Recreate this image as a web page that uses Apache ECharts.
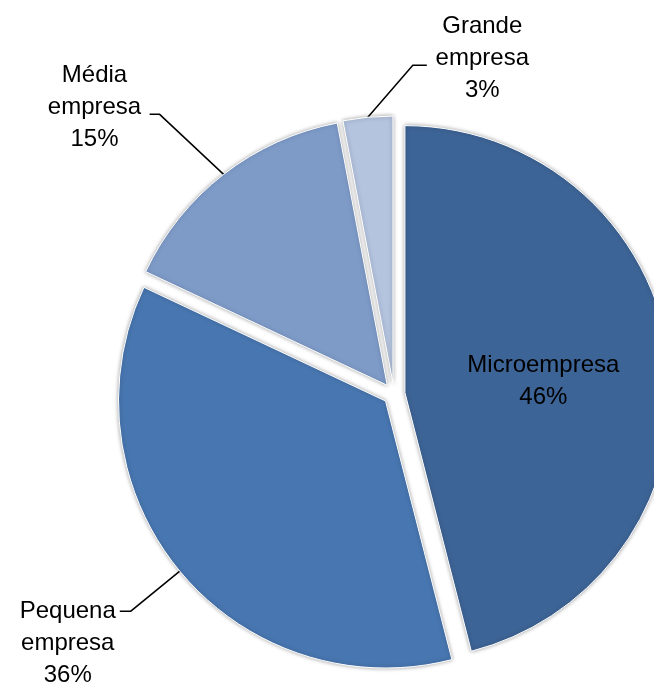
<!DOCTYPE html>
<html>
<head>
<meta charset="utf-8">
<script src="https://cdn.jsdelivr.net/npm/echarts@6/dist/echarts.min.js"></script>
<style>
  html, body { margin: 0; padding: 0; background: #fff; }
  #chart { width: 654px; height: 687px; }
</style>
</head>
<body>
<div id="chart"></div>
<script>
// porte das empresas
const categories = ['Microempresa', 'Pequena empresa', 'Média empresa', 'Grande empresa'];
const shares = [46, 36, 15, 3];
const colors = ['#3D6496', '#4876B0', '#7E9BC8', '#B4C3DE'];

// comprimentos das linhas guia (posicionam o texto) e forma desenhada da linha,
// relativa ao ponto na borda da fatia
const guide = {
  'Pequena empresa': { length: 113, length2: 20, p1: [-49, 40], p2: [-60, 40] },
  'Média empresa': { length: 85, length2: 72, p1: [-64, -60], p2: [-74, -60] },
  'Grande empresa': { length: 59, length2: -125, p1: [45, -52], p2: [59, -52] }
};

const chart = echarts.init(document.getElementById('chart'));

const data = categories.map((name, i) => {
  const item = {
    name: name,
    value: shares[i],
    selected: true,
    itemStyle: { color: colors[i] }
  };
  if (i === 0) {
    item.label = { position: 'inside' };
  } else {
    item.labelLine = { length: guide[name].length, length2: guide[name].length2 };
  }
  return item;
});

chart.setOption({
  animation: false,
  textStyle: { fontFamily: 'Liberation Sans' },
  series: [
    {
      type: 'pie',
      center: [394, 394],
      radius: 267,
      startAngle: 90,
      clockwise: true,
      selectedMode: 'multiple',
      selectedOffset: 11,
      avoidLabelOverlap: false,
      emphasis: { disabled: true },
      itemStyle: {
        borderColor: '#fff',
        borderWidth: 1,
        shadowBlur: 4,
        shadowColor: 'rgba(0,0,0,0.35)'
      },
      label: {
        position: 'outside',
        color: '#000',
        fontSize: 24,
        lineHeight: 32,
        align: 'center',
        formatter: (p) => p.name.replace(' ', '\n') + '\n' + p.value + '%'
      },
      labelLine: {
        show: true,
        lineStyle: { color: '#000', width: 1.5 }
      },
      labelLayout: function (params) {
        const g = guide[categories[params.dataIndex]];
        if (!g) return { dx: 3, dy: 6 };
        if (!params.labelLinePoints) return {};
        const p0 = params.labelLinePoints[0];
        return {
          align: 'center',
          verticalAlign: 'middle',
          labelLinePoints: [
            p0,
            [p0[0] + g.p1[0], p0[1] + g.p1[1]],
            [p0[0] + g.p2[0], p0[1] + g.p2[1]]
          ]
        };
      },
      data: data
    }
  ]
});
</script>
</body>
</html>
